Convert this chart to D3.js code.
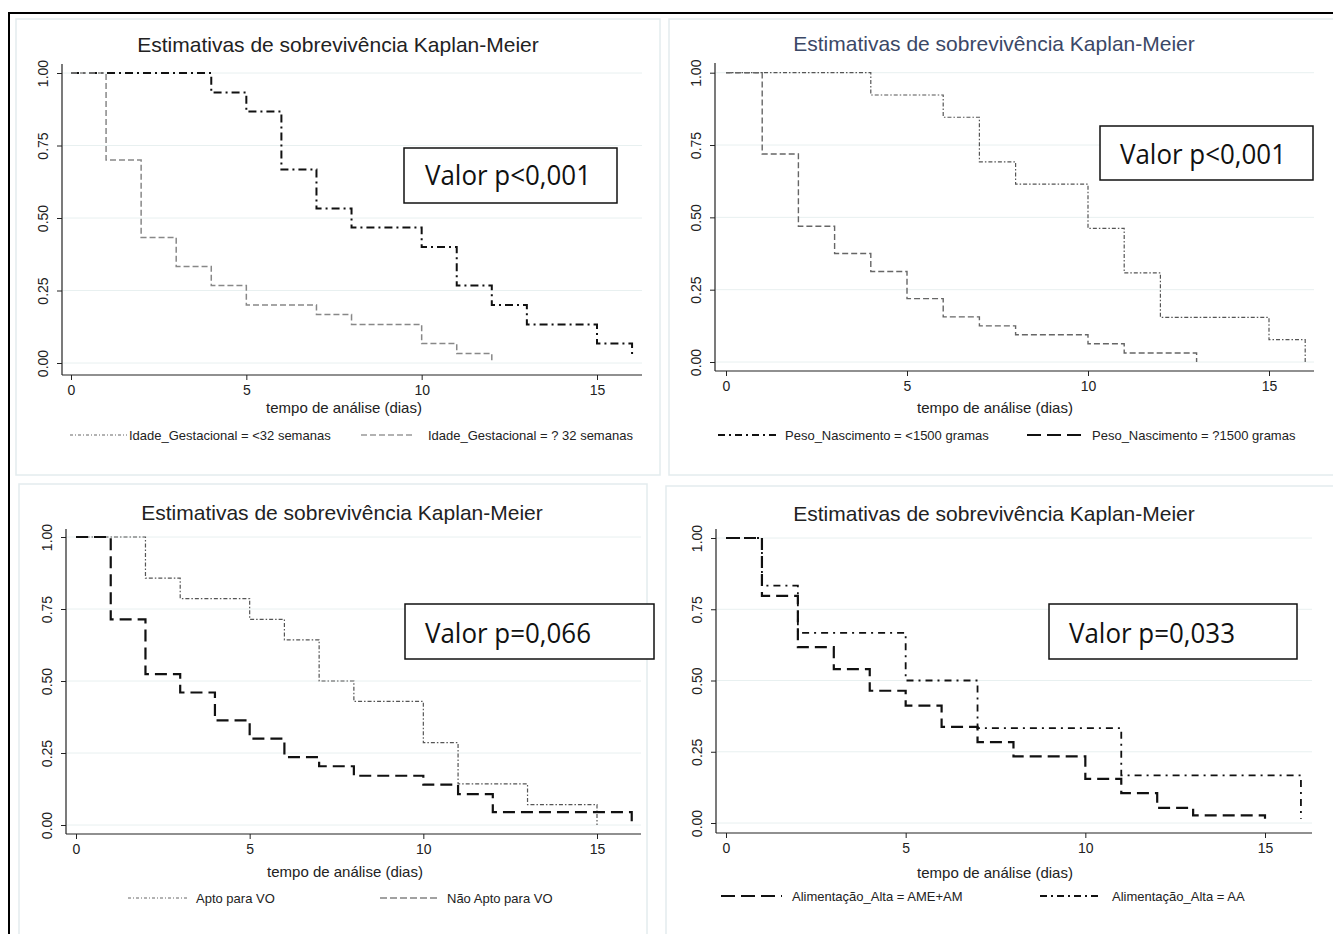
<!DOCTYPE html>
<html>
<head>
<meta charset="utf-8">
<script src="https://cdn.jsdelivr.net/npm/d3@7"></script>
<style>
  body { margin: 0; background: #fff; }
  svg { display: block; font-family: "Liberation Sans", Arial, sans-serif; }
</style>
</head>
<body>
<svg id="km" width="1333" height="934"></svg>
<script>
// tick values shared by the four panels
const xTicks = [0, 5, 10, 15];
const yTicks = [0, 0.25, 0.5, 0.75, 1];

const titulo = 'Estimativas de sobrevivência Kaplan-Meier';
const eixoX = 'tempo de análise (dias)';

// painel 1 - idade gestacional
const idadeMenor32Tempo = [0, 4, 5, 6, 7, 8, 10, 11, 12, 13, 15, 16];
const idadeMenor32Surv = [1, 0.933, 0.867, 0.667, 0.533, 0.467, 0.400, 0.267, 0.200, 0.133, 0.067, 0.02];
const idadeMaior32Tempo = [0, 1, 2, 3, 4, 5, 7, 8, 10, 11, 12];
const idadeMaior32Surv = [1, 0.700, 0.433, 0.333, 0.267, 0.200, 0.167, 0.133, 0.067, 0.033, 0];

// painel 2 - peso ao nascimento
const pesoMenor1500Tempo = [0, 4, 6, 7, 8, 10, 11, 12, 15, 16];
const pesoMenor1500Surv = [1, 0.923, 0.846, 0.692, 0.615, 0.462, 0.308, 0.154, 0.077, 0];
const pesoMaior1500Tempo = [0, 1, 2, 3, 4, 5, 6, 7, 8, 10, 11, 13];
const pesoMaior1500Surv = [1, 0.719, 0.469, 0.375, 0.313, 0.219, 0.156, 0.125, 0.094, 0.063, 0.031, 0];

// painel 3 - apto para VO
const aptoTempo = [0, 2, 3, 5, 6, 7, 8, 10, 11, 13, 15];
const aptoSurv = [1, 0.857, 0.786, 0.714, 0.643, 0.500, 0.429, 0.286, 0.143, 0.071, 0];
const naoAptoTempo = [0, 1, 2, 3, 4, 5, 6, 7, 8, 10, 11, 12, 16];
const naoAptoSurv = [1, 0.714, 0.524, 0.460, 0.363, 0.300, 0.236, 0.204, 0.171, 0.140, 0.107, 0.045, 0.012];

// painel 4 - alimentação na alta
const ameAmTempo = [0, 1, 2, 3, 4, 5, 6, 7, 8, 10, 11, 12, 13, 15];
const ameAmSurv = [1, 0.797, 0.617, 0.540, 0.464, 0.412, 0.337, 0.284, 0.234, 0.155, 0.105, 0.053, 0.027, 0.015];
const aaTempo = [0, 1, 2, 5, 7, 11, 16];
const aaSurv = [1, 0.833, 0.667, 0.500, 0.333, 0.167, 0.015];

const pValores = ['Valor p<0,001', 'Valor p<0,001', 'Valor p=0,066', 'Valor p=0,033'];

function zipar(t, s) {
    return t.map((d, i) => ({ t: d, s: s[i] }));
}

// line styles
const estilos = {
    dashDotGrossa: { cor: '#111', largura: 2, dash: '8,4,2,4' },
    dashDotFina: { cor: '#555', largura: 1.2, dash: '4,2,1.5,2' },
    dashDotMedia: { cor: '#111', largura: 1.8, dash: '7,5,2,5' },
    tracejadoCinza: { cor: '#888', largura: 1.5, dash: '6,3' },
    tracejadoCinzaEsc: { cor: '#666', largura: 1.4, dash: '6,3' },
    tracejadoLongo: { cor: '#111', largura: 2.2, dash: '12,6' }
};

const paineis = [
    {
        frame: [16, 19, 644, 456], tituloCor: '#222', tituloX: 338, tituloY: 52,
        x0: 71, x15: 597, y0: 363, y1: 73, eixoEsq: 62, eixoBase: 375, eixoDir: 642, eixoTopo: 64,
        eixoTituloX: 344, eixoTituloY: 413,
        box: [404, 148, 213, 55], boxTextoX: 425, boxTextoY: 185,
        series: [
            { dados: zipar(idadeMenor32Tempo, idadeMenor32Surv), estilo: estilos.dashDotGrossa },
            { dados: zipar(idadeMaior32Tempo, idadeMaior32Surv), estilo: estilos.tracejadoCinza }
        ],
        legenda: [
            { x1: 70, x2: 127, tx: 129, y: 435, texto: 'Idade_Gestacional = <32 semanas', estilo: { cor: '#666', largura: 1, dash: '3,2,1,2' } },
            { x1: 361, x2: 412, tx: 428, y: 435, texto: 'Idade_Gestacional = ? 32 semanas', estilo: { cor: '#666', largura: 1.2, dash: '6,3' } }
        ]
    },
    {
        frame: [669, 19, 680, 456], tituloCor: '#3b4866', tituloX: 994, tituloY: 51,
        x0: 726, x15: 1269, y0: 362, y1: 72.7, eixoEsq: 715, eixoBase: 371, eixoDir: 1314, eixoTopo: 63,
        eixoTituloX: 995, eixoTituloY: 413,
        box: [1100, 126, 213, 54], boxTextoX: 1120, boxTextoY: 164,
        series: [
            { dados: zipar(pesoMenor1500Tempo, pesoMenor1500Surv), estilo: estilos.dashDotFina },
            { dados: zipar(pesoMaior1500Tempo, pesoMaior1500Surv), estilo: estilos.tracejadoCinzaEsc }
        ],
        legenda: [
            { x1: 718, x2: 777, tx: 785, y: 435, texto: 'Peso_Nascimento = <1500 gramas', estilo: { cor: '#111', largura: 1.8, dash: '7,4,2,4' } },
            { x1: 1027, x2: 1085, tx: 1092, y: 435, texto: 'Peso_Nascimento = ?1500 gramas', estilo: { cor: '#111', largura: 2, dash: '14,6' } }
        ]
    },
    {
        frame: [19, 484, 628, 460], tituloCor: '#222', tituloX: 342, tituloY: 520,
        x0: 76, x15: 597, y0: 825, y1: 537, eixoEsq: 66, eixoBase: 834, eixoDir: 641, eixoTopo: 529,
        eixoTituloX: 345, eixoTituloY: 877,
        box: [405, 604, 249, 55], boxTextoX: 425, boxTextoY: 643,
        series: [
            { dados: zipar(aptoTempo, aptoSurv), estilo: estilos.dashDotFina },
            { dados: zipar(naoAptoTempo, naoAptoSurv), estilo: estilos.tracejadoLongo }
        ],
        legenda: [
            { x1: 128, x2: 188, tx: 196, y: 898, texto: 'Apto para VO', estilo: { cor: '#666', largura: 1, dash: '3,2,1,2' } },
            { x1: 380, x2: 440, tx: 447, y: 898, texto: 'Não Apto para VO', estilo: { cor: '#444', largura: 1.2, dash: '7,3' } }
        ]
    },
    {
        frame: [666, 486, 680, 460], tituloCor: '#222', tituloX: 994, tituloY: 521,
        x0: 726, x15: 1265, y0: 823, y1: 538, eixoEsq: 716, eixoBase: 833, eixoDir: 1312, eixoTopo: 529,
        eixoTituloX: 995, eixoTituloY: 878,
        box: [1049, 604, 248, 55], boxTextoX: 1069, boxTextoY: 643,
        series: [
            { dados: zipar(ameAmTempo, ameAmSurv), estilo: estilos.tracejadoLongo },
            { dados: zipar(aaTempo, aaSurv), estilo: estilos.dashDotMedia }
        ],
        legenda: [
            { x1: 721, x2: 782, tx: 792, y: 896, texto: 'Alimentação_Alta = AME+AM', estilo: { cor: '#111', largura: 2, dash: '14,6' } },
            { x1: 1040, x2: 1102, tx: 1112, y: 896, texto: 'Alimentação_Alta = AA', estilo: { cor: '#111', largura: 1.8, dash: '7,4,2,4' } }
        ]
    }
];

const svg = d3.select('#km');

paineis.forEach((p, idx) => {
    const g = svg.append('g');

    // panel frame
    g.append('rect')
        .attr('x', p.frame[0]).attr('y', p.frame[1])
        .attr('width', p.frame[2]).attr('height', p.frame[3])
        .attr('fill', '#fff')
        .attr('stroke', '#e3ecee')
        .attr('stroke-width', 1.5);

    const x = d3.scaleLinear().domain([0, 15]).range([p.x0, p.x15]);
    const y = d3.scaleLinear().domain([0, 1]).range([p.y0, p.y1]);

    // gridlines
    g.selectAll('.grade')
        .data(yTicks)
        .enter()
        .append('line')
        .attr('x1', p.eixoEsq + 1).attr('x2', p.eixoDir)
        .attr('y1', d => y(d)).attr('y2', d => y(d))
        .attr('stroke', '#e8f0f0')
        .attr('stroke-width', 1);

    // axes
    const ax = g.append('g')
        .attr('transform', `translate(0,${p.eixoBase})`)
        .call(d3.axisBottom(x).tickValues(xTicks).tickFormat(d3.format('d')).tickSize(5).tickPadding(5));
    ax.select('.domain').remove();
    ax.selectAll('text').attr('font-size', 14).attr('fill', '#222').attr('font-family', 'Liberation Sans, Arial, sans-serif');
    ax.selectAll('line').attr('stroke', '#222');

    const ay = g.append('g')
        .attr('transform', `translate(${p.eixoEsq},0)`)
        .call(d3.axisLeft(y).tickValues(yTicks).tickFormat(d3.format('.2f')).tickSize(5));
    ay.select('.domain').remove();
    ay.selectAll('line').attr('stroke', '#222');
    ay.selectAll('text')
        .attr('x', 0).attr('dy', 0)
        .attr('transform', 'translate(-14,0) rotate(-90)')
        .attr('text-anchor', 'middle')
        .attr('font-size', 14).attr('fill', '#222')
        .attr('font-family', 'Liberation Sans, Arial, sans-serif');

    g.append('line')
        .attr('x1', p.eixoEsq).attr('x2', p.eixoDir)
        .attr('y1', p.eixoBase).attr('y2', p.eixoBase)
        .attr('stroke', '#222').attr('stroke-width', 1.2);
    g.append('line')
        .attr('x1', p.eixoEsq).attr('x2', p.eixoEsq)
        .attr('y1', p.eixoTopo).attr('y2', p.eixoBase)
        .attr('stroke', '#222').attr('stroke-width', 1.2);

    // survival curves
    const linha = d3.line()
        .x(d => x(d.t))
        .y(d => y(d.s))
        .curve(d3.curveStepAfter);

    p.series.forEach(s => {
        g.append('path')
            .datum(s.dados)
            .attr('d', linha)
            .attr('fill', 'none')
            .attr('stroke', s.estilo.cor)
            .attr('stroke-width', s.estilo.largura)
            .attr('stroke-dasharray', s.estilo.dash);
    });

    // titles
    g.append('text')
        .attr('x', p.tituloX).attr('y', p.tituloY)
        .attr('text-anchor', 'middle')
        .attr('font-size', 21)
        .attr('fill', p.tituloCor)
        .text(titulo);

    g.append('text')
        .attr('x', p.eixoTituloX).attr('y', p.eixoTituloY)
        .attr('text-anchor', 'middle')
        .attr('font-size', 15)
        .attr('fill', '#222')
        .text(eixoX);

    // legend
    p.legenda.forEach(l => {
        g.append('line')
            .attr('x1', l.x1).attr('x2', l.x2)
            .attr('y1', l.y).attr('y2', l.y)
            .attr('stroke', l.estilo.cor)
            .attr('stroke-width', l.estilo.largura)
            .attr('stroke-dasharray', l.estilo.dash);
        g.append('text')
            .attr('x', l.tx).attr('y', l.y + 4.5)
            .attr('font-size', 13)
            .attr('fill', '#222')
            .text(l.texto);
    });

    // p-value box
    g.append('rect')
        .attr('x', p.box[0]).attr('y', p.box[1])
        .attr('width', p.box[2]).attr('height', p.box[3])
        .attr('fill', '#fff')
        .attr('stroke', '#111')
        .attr('stroke-width', 1.5);
    g.append('text')
        .attr('x', p.boxTextoX).attr('y', p.boxTextoY)
        .attr('font-size', 27)
        .attr('font-family', '"Liberation Sans Narrow", "Open Sans", sans-serif')
        .attr('textLength', 166)
        .attr('lengthAdjust', 'spacingAndGlyphs')
        .attr('fill', '#111')
        .text(pValores[idx]);
});

// outer black frame (left and top edges)
svg.append('line').attr('x1', 9).attr('x2', 9).attr('y1', 13).attr('y2', 934)
    .attr('stroke', '#000').attr('stroke-width', 2);
svg.append('line').attr('x1', 8).attr('x2', 1333).attr('y1', 13).attr('y2', 13)
    .attr('stroke', '#000').attr('stroke-width', 2);
</script>
</body>
</html>
